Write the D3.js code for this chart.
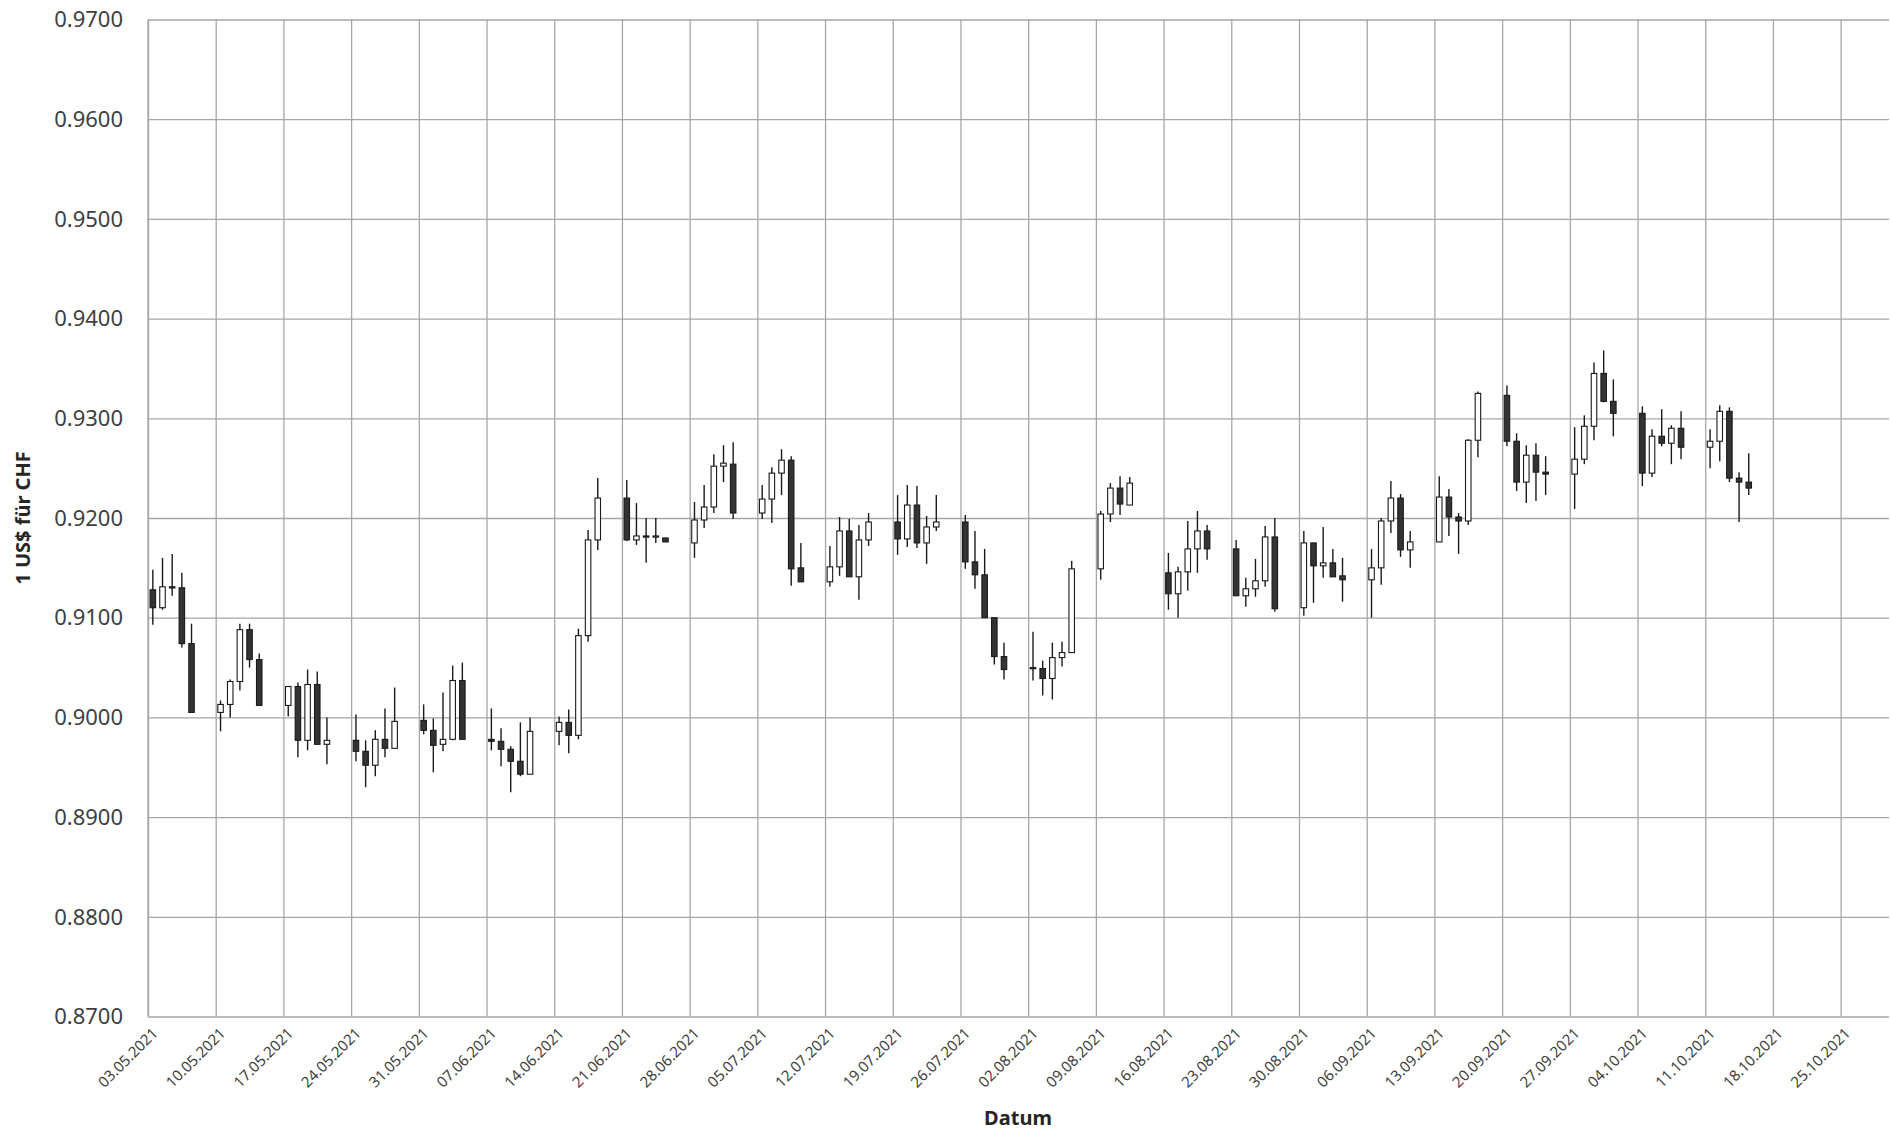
<!DOCTYPE html>
<html lang="de">
<head>
  <meta charset="UTF-8">
  <script src="https://d3js.org/d3.v7.min.js"></script>
  <style>
    body { margin: 0; background: #fff; font-family: 'Noto Sans', sans-serif; }
    .grid line { stroke: #a6a6a6; stroke-width: 1.3px; }
    .grid path { display: none; }
    .ylab text { font-size: 22px; fill: #404040; }
    .xlab text { font-size: 15px; fill: #404040; }
    .title { font-size: 20px; font-weight: bold; fill: #262626; }
  </style>
</head>
<body>
<script>
  // one row per trading day
  const dates = [
    "03.05.2021","04.05.2021","05.05.2021","06.05.2021","07.05.2021",
    "10.05.2021","11.05.2021","12.05.2021","13.05.2021","14.05.2021",
    "17.05.2021","18.05.2021","19.05.2021","20.05.2021","21.05.2021",
    "24.05.2021","25.05.2021","26.05.2021","27.05.2021","28.05.2021",
    "31.05.2021","01.06.2021","02.06.2021","03.06.2021","04.06.2021",
    "07.06.2021","08.06.2021","09.06.2021","10.06.2021","11.06.2021",
    "14.06.2021","15.06.2021","16.06.2021","17.06.2021","18.06.2021",
    "21.06.2021","22.06.2021","23.06.2021","24.06.2021","25.06.2021",
    "28.06.2021","29.06.2021","30.06.2021","01.07.2021","02.07.2021",
    "05.07.2021","06.07.2021","07.07.2021","08.07.2021","09.07.2021",
    "12.07.2021","13.07.2021","14.07.2021","15.07.2021","16.07.2021",
    "19.07.2021","20.07.2021","21.07.2021","22.07.2021","23.07.2021",
    "26.07.2021","27.07.2021","28.07.2021","29.07.2021","30.07.2021",
    "02.08.2021","03.08.2021","04.08.2021","05.08.2021","06.08.2021",
    "09.08.2021","10.08.2021","11.08.2021","12.08.2021",
    "16.08.2021","17.08.2021","18.08.2021","19.08.2021","20.08.2021",
    "23.08.2021","24.08.2021","25.08.2021","26.08.2021","27.08.2021",
    "30.08.2021","31.08.2021","01.09.2021","02.09.2021","03.09.2021",
    "06.09.2021","07.09.2021","08.09.2021","09.09.2021","10.09.2021",
    "13.09.2021","14.09.2021","15.09.2021","16.09.2021","17.09.2021",
    "20.09.2021","21.09.2021","22.09.2021","23.09.2021","24.09.2021",
    "27.09.2021","28.09.2021","29.09.2021","30.09.2021","01.10.2021",
    "04.10.2021","05.10.2021","06.10.2021","07.10.2021","08.10.2021",
    "11.10.2021","12.10.2021","13.10.2021","14.10.2021","15.10.2021"
  ];

  const open = [
    0.9128,0.9110,0.9131,0.9130,0.9074, 0.9005,0.9013,0.9036,0.9088,0.9058,
    0.9012,0.9031,0.8977,0.9033,0.8973, 0.8977,0.8966,0.8952,0.8978,0.8969,
    0.8997,0.8987,0.8973,0.8978,0.9037, 0.8978,0.8976,0.8968,0.8956,0.8943,
    0.8986,0.8995,0.8982,0.9082,0.9178, 0.9220,0.9178,0.9182,0.9181,0.9180,
    0.9175,0.9198,0.9211,0.9252,0.9254, 0.9205,0.9219,0.9245,0.9258,0.9150,
    0.9136,0.9151,0.9187,0.9141,0.9178, 0.9196,0.9179,0.9213,0.9175,0.9191,
    0.9196,0.9156,0.9143,0.9100,0.9061, 0.9050,0.9049,0.9039,0.9060,0.9065,
    0.9149,0.9204,0.9230,0.9213,        0.9145,0.9124,0.9146,0.9169,0.9187,
    0.9169,0.9122,0.9129,0.9137,0.9181, 0.9110,0.9175,0.9152,0.9155,0.9142,
    0.9138,0.9150,0.9197,0.9220,0.9168, 0.9176,0.9221,0.9201,0.9197,0.9278,
    0.9323,0.9277,0.9236,0.9263,0.9246, 0.9244,0.9259,0.9292,0.9345,0.9317,
    0.9305,0.9245,0.9282,0.9275,0.9290, 0.9271,0.9277,0.9307,0.9240,0.9236
  ];

  const high = [
    0.9148,0.9160,0.9164,0.9145,0.9094, 0.9017,0.9038,0.9094,0.9094,0.9064,
    0.9031,0.9035,0.9048,0.9046,0.9000, 0.9003,0.8977,0.8987,0.9009,0.9030,
    0.9013,0.8999,0.9025,0.9052,0.9055, 0.9009,0.8989,0.8971,0.8995,0.9000,
    0.9001,0.9008,0.9089,0.9188,0.9240, 0.9238,0.9215,0.9200,0.9200,0.9180,
    0.9216,0.9233,0.9264,0.9273,0.9276, 0.9233,0.9251,0.9269,0.9262,0.9175,
    0.9172,0.9201,0.9199,0.9193,0.9205, 0.9223,0.9233,0.9232,0.9202,0.9223,
    0.9203,0.9187,0.9169,0.9100,0.9075, 0.9086,0.9057,0.9075,0.9076,0.9157,
    0.9207,0.9235,0.9242,0.9241,        0.9165,0.9151,0.9197,0.9207,0.9193,
    0.9178,0.9140,0.9159,0.9192,0.9200, 0.9187,0.9175,0.9191,0.9169,0.9160,
    0.9169,0.9200,0.9237,0.9224,0.9187, 0.9242,0.9229,0.9205,0.9279,0.9327,
    0.9333,0.9285,0.9273,0.9275,0.9262, 0.9291,0.9303,0.9356,0.9368,0.9339,
    0.9312,0.9289,0.9309,0.9293,0.9307, 0.9289,0.9313,0.9311,0.9246,0.9265
  ];

  const low = [
    0.9093,0.9108,0.9122,0.9070,0.9005, 0.8986,0.9000,0.9027,0.9050,0.9012,
    0.9001,0.8960,0.8967,0.8973,0.8953, 0.8956,0.8930,0.8941,0.8960,0.8969,
    0.8983,0.8945,0.8966,0.8977,0.8978, 0.8967,0.8951,0.8925,0.8941,0.8943,
    0.8972,0.8964,0.8978,0.9076,0.9168, 0.9177,0.9173,0.9155,0.9175,0.9176,
    0.9160,0.9190,0.9205,0.9236,0.9199, 0.9199,0.9195,0.9223,0.9132,0.9136,
    0.9131,0.9142,0.9141,0.9118,0.9172, 0.9163,0.9171,0.9170,0.9154,0.9187,
    0.9149,0.9129,0.9100,0.9053,0.9038, 0.9037,0.9022,0.9018,0.9051,0.9065,
    0.9138,0.9196,0.9203,0.9213,        0.9108,0.9100,0.9127,0.9145,0.9158,
    0.9122,0.9111,0.9121,0.9131,0.9106, 0.9102,0.9115,0.9140,0.9141,0.9116,
    0.9100,0.9133,0.9185,0.9161,0.9150, 0.9176,0.9182,0.9164,0.9193,0.9261,
    0.9272,0.9227,0.9215,0.9217,0.9223, 0.9209,0.9254,0.9278,0.9316,0.9282,
    0.9232,0.9241,0.9272,0.9254,0.9259, 0.9250,0.9257,0.9236,0.9196,0.9223
  ];

  const close = [
    0.9110,0.9131,0.9130,0.9074,0.9005, 0.9013,0.9036,0.9088,0.9058,0.9012,
    0.9031,0.8977,0.9033,0.8973,0.8977, 0.8966,0.8952,0.8978,0.8969,0.8996,
    0.8987,0.8972,0.8978,0.9037,0.8978, 0.8976,0.8968,0.8956,0.8943,0.8986,
    0.8995,0.8982,0.9082,0.9178,0.9220, 0.9178,0.9182,0.9181,0.9182,0.9176,
    0.9198,0.9211,0.9252,0.9255,0.9205, 0.9219,0.9245,0.9258,0.9149,0.9136,
    0.9151,0.9187,0.9141,0.9178,0.9196, 0.9179,0.9213,0.9175,0.9191,0.9196,
    0.9156,0.9143,0.9100,0.9061,0.9048, 0.9049,0.9039,0.9060,0.9065,0.9149,
    0.9204,0.9230,0.9214,0.9235,        0.9124,0.9146,0.9169,0.9187,0.9169,
    0.9122,0.9129,0.9137,0.9181,0.9109, 0.9175,0.9152,0.9155,0.9141,0.9138,
    0.9150,0.9197,0.9220,0.9168,0.9176, 0.9221,0.9201,0.9197,0.9278,0.9325,
    0.9277,0.9236,0.9263,0.9246,0.9244, 0.9259,0.9292,0.9345,0.9317,0.9305,
    0.9245,0.9282,0.9275,0.9290,0.9271, 0.9277,0.9307,0.9240,0.9236,0.9230
  ];

  const yTicks = [0.87, 0.88, 0.89, 0.90, 0.91, 0.92, 0.93, 0.94, 0.95, 0.96, 0.97];
  const xStart = "03.05.2021", xEnd = "30.10.2021";

  const parse = d3.timeParse("%d.%m.%Y");
  const data = dates.map((d, i) => ({
    date: parse(d), o: open[i], h: high[i], l: low[i], c: close[i]
  }));

  const W = 1890, H = 1132;
  const mLeft = 148, mRight = 1889, mTop = 19.5, mBottom = 1016.5;

  const svg = d3.select("body").append("svg")
    .attr("width", W)
    .attr("height", H);

  const x = d3.scaleTime()
    .domain([parse(xStart), parse(xEnd)])
    .range([mLeft, mRight]);

  const y = d3.scaleLinear()
    .domain([0.87, 0.97])
    .range([mBottom, mTop]);

  const dayW = x(d3.timeDay.offset(parse(xStart), 1)) - x(parse(xStart));

  // horizontal grid + y labels
  svg.append("g")
    .attr("class", "grid")
    .attr("transform", `translate(${mLeft},0)`)
    .call(d3.axisLeft(y).tickValues(yTicks).tickSize(-(mRight - mLeft)).tickFormat(""));

  svg.append("g")
    .attr("class", "ylab")
    .selectAll("text")
    .data(yTicks)
    .enter().append("text")
    .attr("x", 123)
    .attr("y", d => y(d))
    .attr("dy", "0.35em")
    .attr("text-anchor", "end")
    .text(d3.format(".4f"));

  // vertical grid, one line per Monday
  const mondays = d3.timeMonday.range(parse(xStart), d3.timeDay.offset(parse(xEnd), 1));
  svg.append("g")
    .attr("class", "grid")
    .attr("transform", `translate(0,${mBottom})`)
    .call(d3.axisBottom(x).tickValues(mondays).tickSize(-(mBottom - mTop)).tickFormat(""));

  // left axis line
  svg.append("line")
    .attr("x1", mLeft).attr("x2", mLeft)
    .attr("y1", mTop).attr("y2", mBottom)
    .attr("stroke", "#a6a6a6").attr("stroke-width", 1.3);

  const fmt = d3.timeFormat("%d.%m.%Y");
  svg.append("g")
    .attr("class", "xlab")
    .selectAll("text")
    .data(mondays)
    .enter().append("text")
    .attr("transform", d => `translate(${x(d) + 7},${mBottom + 14}) rotate(-45)`)
    .attr("text-anchor", "end")
    .attr("dy", "0.35em")
    .text(fmt);

  // candles
  const bodyW = 5.5;
  const candle = svg.append("g").selectAll("g")
    .data(data)
    .enter().append("g")
    .attr("transform", d => `translate(${x(d.date) + dayW / 2},0)`);

  candle.append("line")
    .attr("y1", d => y(d.h))
    .attr("y2", d => y(d.l))
    .attr("stroke", "#1a1a1a")
    .attr("stroke-width", 1.4);

  candle.append("rect")
    .attr("x", -bodyW / 2)
    .attr("width", bodyW)
    .attr("y", d => y(Math.max(d.o, d.c)))
    .attr("height", d => Math.max(1.2, Math.abs(y(d.o) - y(d.c))))
    .attr("fill", d => d.c < d.o ? "#333333" : "#ffffff")
    .attr("stroke", "#1a1a1a")
    .attr("stroke-width", 1.1);

  // axis titles
  svg.append("text")
    .attr("class", "title")
    .attr("transform", `translate(30,${(mTop + mBottom) / 2}) rotate(-90)`)
    .attr("text-anchor", "middle")
    .text("1 US$ für CHF");

  svg.append("text")
    .attr("class", "title")
    .attr("x", 1018)
    .attr("y", 1125)
    .attr("text-anchor", "middle")
    .text("Datum");
</script>
</body>
</html>
